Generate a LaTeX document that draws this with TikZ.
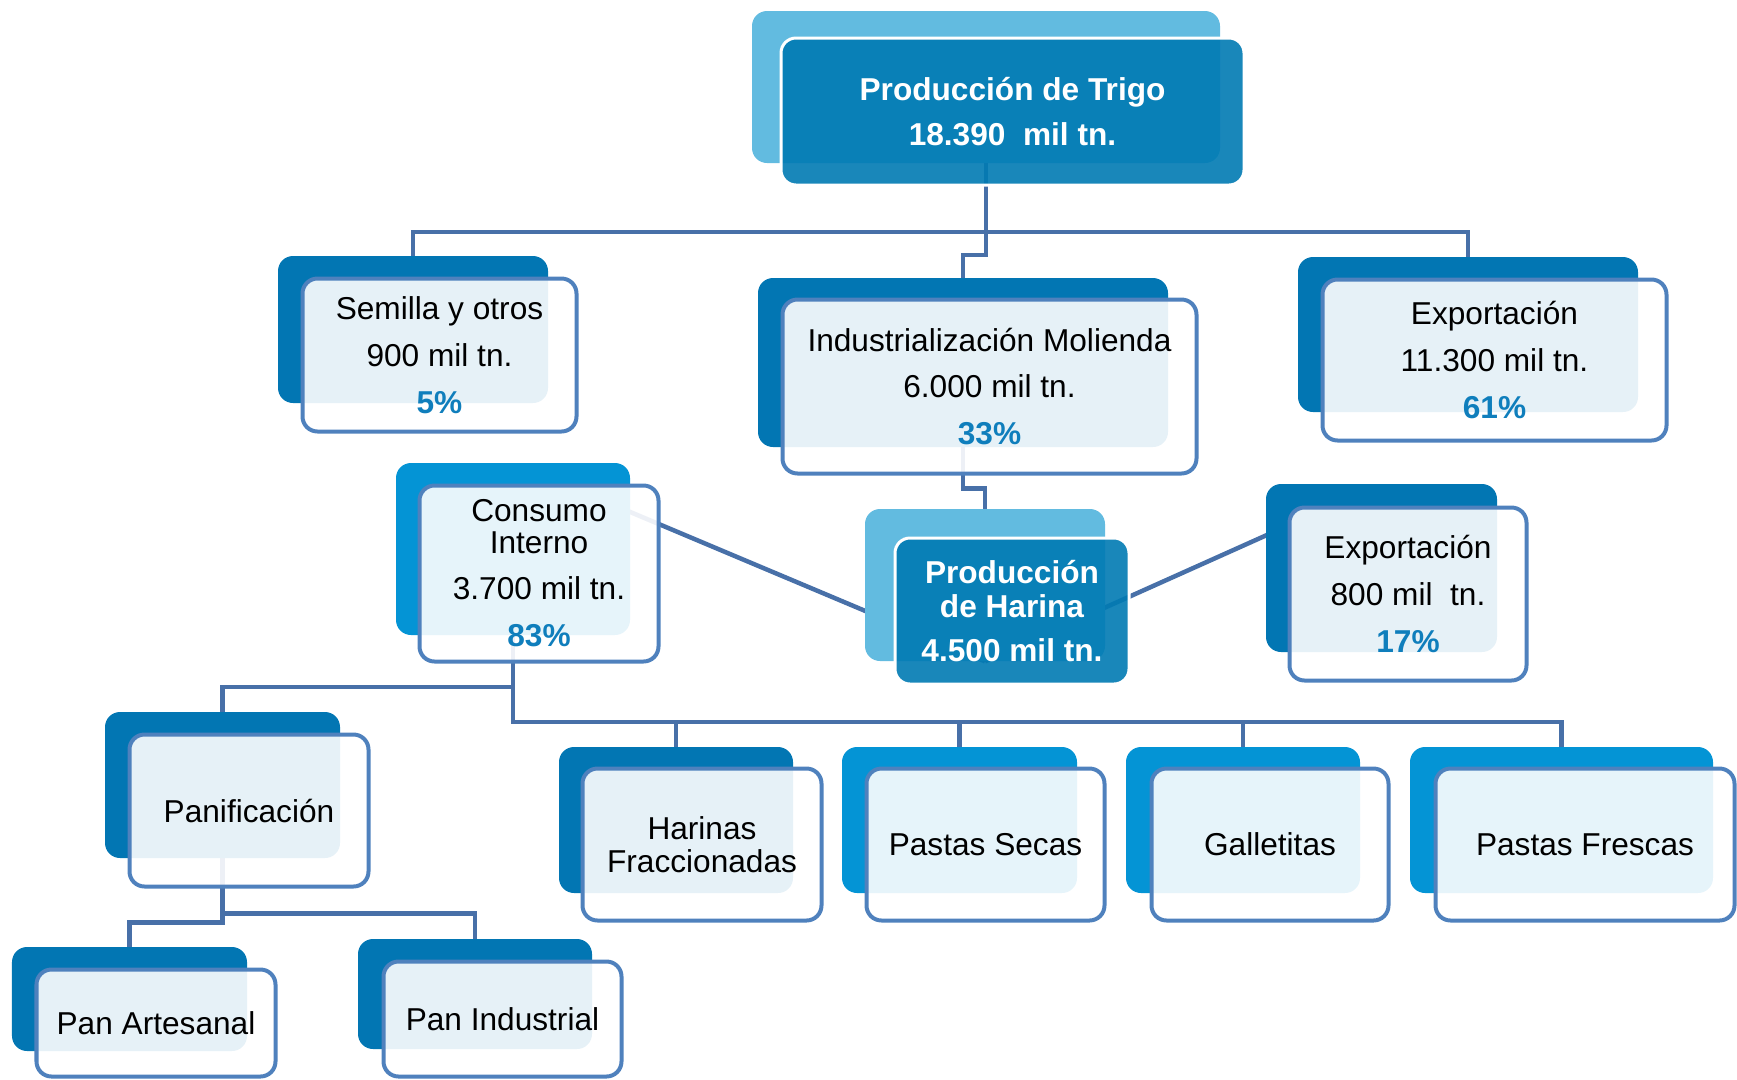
\documentclass[tikz,border=0pt]{standalone}
\usepackage{fontspec}
\setmainfont{Liberation Sans}
\usetikzlibrary{backgrounds}

\definecolor{backdark}{HTML}{0276B3}
\definecolor{backbright}{HTML}{0494D5}
\definecolor{backlight}{HTML}{62BBE0}
\definecolor{mainfill}{HTML}{007AB3}
\definecolor{framecol}{HTML}{4F81BD}
\definecolor{linkcol}{HTML}{4870A8}
\definecolor{pctblue}{HTML}{0F7EBC}

\newcommand{\pct}[1]{{\bfseries\color{pctblue}#1}}

\begin{document}
\begin{tikzpicture}[
    boxfont/.style={font={\fontsize{18pt}{26.7pt}\selectfont}},
    backbox/.style={rounded corners=0.3cm, fill=backdark, inner sep=0pt},
    brightbox/.style={backbox, fill=backbright},
    lightbox/.style={backbox, fill=backlight},
    frontbox/.style={boxfont, draw=framecol, line width=0.08cm, rounded corners=0.3cm,
        fill=white, fill opacity=0.9, text opacity=1, align=center, inner sep=0pt},
    mainbox/.style={draw=white, line width=0.06cm, rounded corners=0.3cm,
        fill=mainfill, fill opacity=0.9, text opacity=1, text=white, align=center,
        inner sep=0pt, font={\fontsize{18pt}{26.7pt}\selectfont\bfseries}},
    link/.style={draw=linkcol, line width=0.09cm}
]
    \useasboundingbox (0,0) rectangle (34.74,-21.58);
    \clip (0,0) rectangle (34.74,-21.58);

    % Nodes (back boxes)
    \node[lightbox, minimum width=9.36cm, minimum height=3.04cm] (trigoB) at (19.72,-1.74) {};
    \node[backbox, minimum width=5.40cm, minimum height=2.94cm] (semillaB) at (8.26,-6.59) {};
    \node[backbox, minimum width=8.20cm, minimum height=3.38cm] (industB) at (19.26,-7.25) {};
    \node[backbox, minimum width=6.80cm, minimum height=3.10cm] (exportB) at (29.36,-6.69) {};
    \node[brightbox, minimum width=4.68cm, minimum height=3.44cm] (consumoB) at (10.26,-10.98) {};
    \node[lightbox, minimum width=4.80cm, minimum height=3.04cm] (harinaB) at (19.70,-11.70) {};
    \node[backbox, minimum width=4.62cm, minimum height=3.36cm] (expo2B) at (27.63,-11.36) {};
    \node[backbox, minimum width=4.70cm, minimum height=2.92cm] (panifB) at (4.45,-15.70) {};
    \node[backbox, minimum width=4.68cm, minimum height=2.92cm] (fraccB) at (13.52,-16.40) {};
    \node[brightbox, minimum width=4.70cm, minimum height=2.92cm] (secasB) at (19.19,-16.40) {};
    \node[brightbox, minimum width=4.68cm, minimum height=2.92cm] (galletB) at (24.86,-16.40) {};
    \node[brightbox, minimum width=6.06cm, minimum height=2.92cm] (frescasB) at (31.23,-16.40) {};
    \node[backbox, minimum width=4.70cm, minimum height=2.08cm] (panAB) at (2.59,-19.98) {};
    \node[backbox, minimum width=4.68cm, minimum height=2.20cm] (panIB) at (9.50,-19.88) {};

    % Nodes (front boxes)
    \node[mainbox, minimum width=9.26cm, minimum height=2.94cm] (trigo) at (20.25,-2.23)
        {Producción de Trigo\\[-1.1pt]18.390 \ mil tn.};
    \node[frontbox, minimum width=5.48cm, minimum height=3.06cm] (semilla) at (8.79,-7.10)
        {Semilla y otros\\900 mil tn.\\\pct{5\%}};
    \node[frontbox, minimum width=8.28cm, minimum height=3.48cm] (indust) at (19.79,-7.73)
        {Industrialización Molienda\\6.000 mil tn.\\\pct{33\%}};
    \node[frontbox, minimum width=6.88cm, minimum height=3.22cm] (export) at (29.89,-7.20)
        {Exportación\\11.300 mil tn.\\\pct{61\%}};
    \node[frontbox, minimum width=4.78cm, minimum height=3.52cm] (consumo) at (10.78,-11.47)
        {Consumo\\[-8.5pt]Interno\\[-0.5pt]3.700 mil tn.\\\pct{83\%}};
    \node[mainbox, minimum width=4.68cm, minimum height=2.92cm] (harina) at (20.24,-12.22)
        {Producción\\[-7.4pt]de Harina\\[-1.7pt]4.500 mil tn.};
    \node[frontbox, minimum width=4.74cm, minimum height=3.46cm] (expo2) at (28.16,-11.88)
        {Exportación\\800 mil \ tn.\\\pct{17\%}};
    \node[frontbox, minimum width=4.78cm, minimum height=3.04cm] (panif) at (4.98,-16.21)
        {Panificación};
    \node[frontbox, minimum width=4.78cm, minimum height=3.04cm] (fracc) at (14.04,-16.89)
        {Harinas\\[-7.9pt]Fraccionadas};
    \node[frontbox, minimum width=4.76cm, minimum height=3.04cm] (secas) at (19.71,-16.89)
        {Pastas Secas};
    \node[frontbox, minimum width=4.74cm, minimum height=3.04cm] (gallet) at (25.40,-16.89)
        {Galletitas};
    \node[frontbox, minimum width=5.98cm, minimum height=3.04cm] (frescas) at (31.70,-16.89)
        {Pastas Frescas};
    \node[frontbox, minimum width=4.78cm, minimum height=2.14cm] (panA) at (3.12,-20.46)
        {Pan Artesanal};
    \node[frontbox, minimum width=4.76cm, minimum height=2.30cm] (panI) at (10.05,-20.38)
        {Pan Industrial};

    % Edges
    \begin{pgfonlayer}{background}
        \coordinate (topbus) at (0,-4.64);
        \coordinate (panbus) at (0,-13.74);
        \coordinate (prodbus) at (0,-14.44);

        \draw[link] (semillaB.north) |- (exportB.north |- topbus) -- (exportB.north);
        \draw[link] (trigoB.south) -- (trigoB.south |- topbus) -- ++(0,-0.46) -| (industB.north);
        \draw[link] (industB.south) -- ++(0,-0.82) -| (harinaB.north);

        \draw[link, shorten >=0.3cm] (harinaB.south) -- (consumoB.north);
        \draw[link, shorten >=0.3cm] (harinaB.south) -- (expo2B.north);

        \draw[link] (consumoB.south) -- (consumoB.south |- panbus) -| (panifB.north);
        \draw[link] (consumoB.south) |- (frescasB.north |- prodbus) -- (frescasB.north);
        \foreach \n in {fraccB, secasB, galletB}
            \draw[link] (\n.north) -- (\n.north |- prodbus);

        \draw[link] (panifB.south) -- ++(0,-1.28) -| (panAB.north);
        \draw[link] (panifB.south) -- ++(0,-1.10) -| (panIB.north);
    \end{pgfonlayer}
\end{tikzpicture}
\end{document}
